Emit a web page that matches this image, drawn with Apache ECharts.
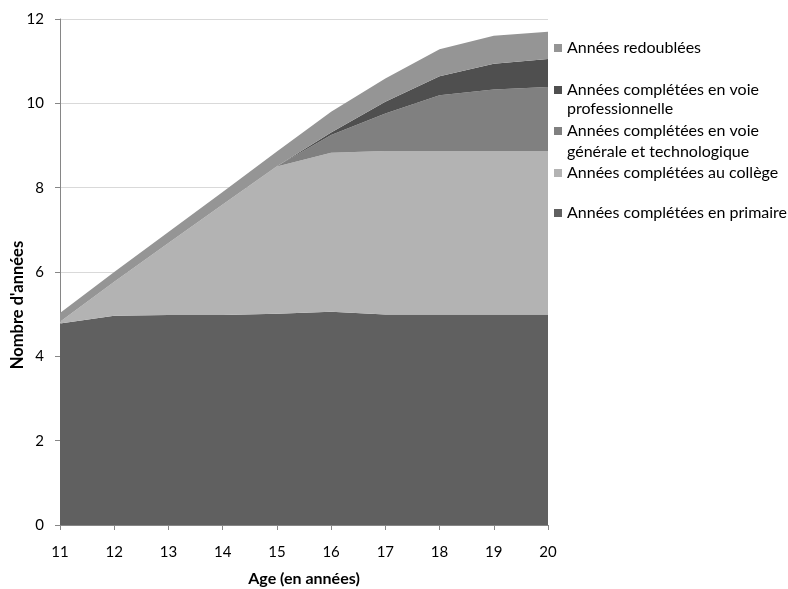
<!DOCTYPE html>
<html><head><meta charset="utf-8">
<script src="https://cdn.jsdelivr.net/npm/echarts@6/dist/echarts.min.js"></script>
<style>html,body{margin:0;padding:0;background:#fff}#c{width:788px;height:589px}</style>
</head><body><div id="c"></div>
<script>
var ages = ['11','12','13','14','15','16','17','18','19','20'];
var primaire  = [4.78, 4.96, 4.98, 4.98, 5.01, 5.06, 4.99, 4.99, 4.99, 4.99];
var college   = [0.04, 0.81, 1.71, 2.62, 3.49, 3.77, 3.88, 3.88, 3.88, 3.88];
var generale  = [0, 0, 0, 0, 0.01, 0.42, 0.89, 1.32, 1.46, 1.52];
var pro       = [0, 0, 0, 0, 0, 0.06, 0.28, 0.45, 0.61, 0.66];
var redoub    = [0.21, 0.23, 0.26, 0.30, 0.35, 0.49, 0.55, 0.64, 0.66, 0.65];
var yTicks = [0, 2, 4, 6, 8, 10, 12];

var names = ['Années complétées en primaire', 'Années complétées au collège',
  'Années complétées en voie générale et technologique',
  'Années complétées en voie professionnelle', 'Années redoublées'];
var firstLines = {
  'Années redoublées': 'Années redoublées',
  'Années complétées en voie professionnelle': 'Années complétées en voie',
  'Années complétées en voie générale et technologique': 'Années complétées en voie',
  'Années complétées au collège': 'Années complétées au collège',
  'Années complétées en primaire': 'Années complétées en primaire'
};
var secondLines = [
  {text: 'professionnelle', y: 109},
  {text: 'générale et technologique', y: 152}
];
var colors = ['#606060', '#b3b3b3', '#808080', '#4f4f4f', '#959595'];
var datas = [primaire, college, generale, pro, redoub];
var FONT = 'Lato';
var FS = 16;

var series = names.map(function (n, i) {
  return {
    name: n, type: 'line', stack: 'tot', data: datas[i], symbol: 'none',
    lineStyle: {width: 0}, areaStyle: {color: colors[i], opacity: 1},
    itemStyle: {color: colors[i]}, z: 2 + i, silent: true
  };
});

var legCenters = {
  'Années redoublées': 48,
  'Années complétées en voie professionnelle': 90,
  'Années complétées en voie générale et technologique': 131,
  'Années complétées au collège': 173,
  'Années complétées en primaire': 213
};
var legends = Object.keys(legCenters).map(function (n) {
  return {
    data: [n], left: 554, top: legCenters[n] - 10, orient: 'vertical',
    itemWidth: 8, itemHeight: 8, itemGap: 0, icon: 'rect', padding: 0,
    selectedMode: false,
    formatter: function (name) { return firstLines[name]; },
    textStyle: {fontFamily: FONT, fontSize: FS, color: '#000', lineHeight: 20}
  };
});

var chart = echarts.init(document.getElementById('c'));
chart.setOption({
  animation: false,
  backgroundColor: '#fff',
  grid: {left: 60, right: 240, top: 19, bottom: 64, outerBoundsMode: 'none', containLabel: false},
  legend: legends,
  graphic: secondLines.map(function (s) {
    return {type: 'text', left: 567, top: s.y - 10, silent: true,
      style: {text: s.text, font: FS + 'px ' + FONT, fill: '#000', lineHeight: 20}};
  }),
  xAxis: {
    type: 'category', data: ages, boundaryGap: false,
    name: 'Age (en années)', nameLocation: 'middle', nameGap: 46,
    nameTextStyle: {fontFamily: FONT, fontSize: FS, fontWeight: 'bold', color: '#000'},
    axisLine: {lineStyle: {color: '#868686'}},
    axisTick: {show: true, length: 5, lineStyle: {color: '#868686'}},
    axisLabel: {fontFamily: FONT, fontSize: 15, color: '#000', margin: 20}
  },
  yAxis: {
    type: 'value', min: yTicks[0], max: yTicks[yTicks.length - 1], interval: 2,
    name: "Nombre d'années", nameLocation: 'middle', nameGap: 34, nameMoveOverlap: false,
    nameTextStyle: {fontFamily: FONT, fontSize: 16.5, fontWeight: 'bold', color: '#000',
      padding: [0, 66, 0, 0]},
    axisLine: {show: true, lineStyle: {color: '#868686'}},
    axisTick: {show: true, length: 5, lineStyle: {color: '#868686'}},
    axisLabel: {fontFamily: FONT, fontSize: 15, color: '#000', margin: 16},
    splitLine: {lineStyle: {color: '#d9d9d9'}}
  },
  series: series
});
</script></body></html>
